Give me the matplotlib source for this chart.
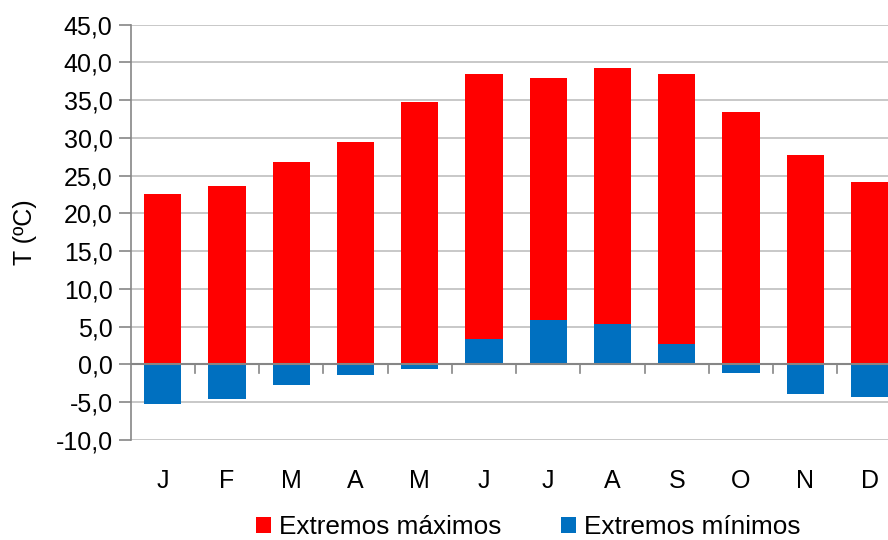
import matplotlib
matplotlib.use("Agg")
import matplotlib.pyplot as plt
from matplotlib.ticker import FuncFormatter
import numpy as np

plt.rcParams['font.family'] = ['Liberation Sans', 'DejaVu Sans']

meses = ['J', 'F', 'M', 'A', 'M', 'J', 'J', 'A', 'S', 'O', 'N', 'D']
maximos = [22.6, 23.6, 26.8, 29.5, 34.8, 38.5, 37.9, 39.3, 38.5, 33.4, 27.7, 24.2]
minimos = [-5.3, -4.6, -2.7, -1.4, -0.6, 3.3, 5.9, 5.4, 2.7, -1.1, -4.0, -4.3]

fs = 18

fig = plt.figure(figsize=(8.88, 5.4), dpi=100)
ax = fig.add_axes([0.1471, 0.1857, 0.8683, 0.7685])

x = np.arange(len(meses))
ax.bar(x, maximos, width=0.58, color='#FF0000', label='Extremos máximos', zorder=2)
ax.bar(x, minimos, width=0.58, color='#0070C0', label='Extremos mínimos', zorder=3)

ax.set_xlim(-0.5, len(meses) - 0.5)
ax.set_ylim(-10, 45)
ax.set_yticks(np.arange(-10, 46, 5))
ax.yaxis.set_major_formatter(FuncFormatter(lambda v, p: f"{v:.1f}".replace('.', ',')))
ax.grid(axis='y', color='#bfbfbf', linewidth=1.2, zorder=0)
ax.set_axisbelow(True)

for s in ['top', 'right', 'bottom']:
    ax.spines[s].set_visible(False)
ax.spines['left'].set_color('#868686')
ax.spines['left'].set_linewidth(1.2)
ax.axhline(0, color='#868686', linewidth=1.5, zorder=4)

# category separators hang below the zero line
for b in np.arange(0.5, len(meses) - 0.5, 1):
    ax.plot([b, b], [0, -1.1], color='#868686', linewidth=1.2, zorder=4)

ax.tick_params(axis='y', length=9, width=1.2, color='#868686', labelsize=fs, pad=4)
ax.set_xticks(x)
ax.set_xticklabels(meses)
ax.tick_params(axis='x', length=0, labelsize=fs, pad=21)

ax.set_ylabel('T (ºC)', fontsize=fs, labelpad=13)

fig.legend(loc='center', bbox_to_anchor=(0.595, 0.024), ncol=2, frameon=False,
           fontsize=18.8, handlelength=0.58, handleheight=0.58, handletextpad=0.3,
           columnspacing=2.3, borderpad=0)

fig.savefig('out.png', dpi=100)
